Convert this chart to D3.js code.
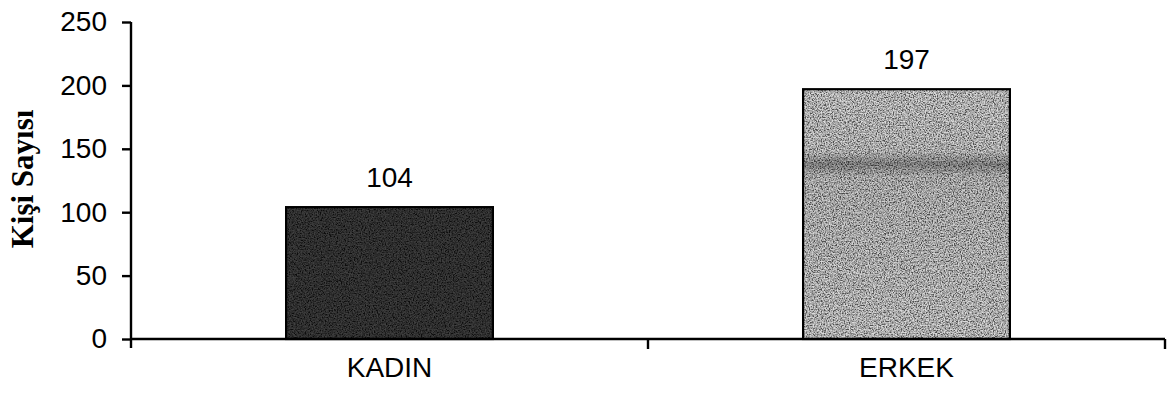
<!DOCTYPE html>
<html>
<head>
<meta charset="utf-8">
<script src="https://cdn.jsdelivr.net/npm/d3@7"></script>
<style>
  html, body { margin: 0; padding: 0; background: #fff; }
  svg { display: block; }
</style>
</head>
<body>
<svg id="chart" width="1174" height="395"></svg>
<script>
// Chart data
const categories = ["KADIN", "ERKEK"];
const values = [104, 197];
const yTicks = [0, 50, 100, 150, 200, 250];
const barTones = ["#2e2e2e", "#a8a8a8"];
const yTitle = "Kişi Sayısı";

const plot = { left: 131, right: 1165, top: 22, bottom: 339 };
const sans = "Arial, 'Liberation Sans', sans-serif";

const svg = d3.select("#chart");

// Grain filter for the printed-halftone look of the bars
const defs = svg.append("defs");
const grain = defs.append("filter").attr("id", "grain")
  .attr("x", 0).attr("y", 0).attr("width", 1).attr("height", 1);
grain.append("feTurbulence").attr("type", "fractalNoise")
  .attr("baseFrequency", 0.75).attr("numOctaves", 2).attr("seed", 4).attr("result", "noise");
grain.append("feColorMatrix").attr("in", "noise").attr("type", "saturate").attr("values", 0).attr("result", "mono");
grain.append("feComponentTransfer").attr("in", "mono").attr("result", "spread")
  .call(g => {
    ["R", "G", "B"].forEach(c => g.append("feFunc" + c).attr("type", "linear").attr("slope", 3.2).attr("intercept", -1.1));
    g.append("feFuncA").attr("type", "linear").attr("slope", 0).attr("intercept", 0.8);
  });
grain.append("feComposite").attr("in", "spread").attr("in2", "SourceGraphic").attr("operator", "in").attr("result", "grainIn");
grain.append("feBlend").attr("in", "grainIn").attr("in2", "SourceGraphic").attr("mode", "overlay");

// Darker streak across the lighter bar
const grad = defs.append("linearGradient").attr("id", "streak")
  .attr("x1", 0).attr("y1", 0).attr("x2", 0).attr("y2", 1);
[[0, "#acacac"], [0.25, "#a6a6a6"], [0.3, "#787878"], [0.35, "#a0a0a0"], [1, "#aaaaaa"]]
  .forEach(([o, c]) => grad.append("stop").attr("offset", o).attr("stop-color", c));

const x = d3.scaleBand().domain(categories).range([plot.left, plot.right]).padding(0);
const y = d3.scaleLinear().domain([0, 250]).range([plot.bottom, plot.top]);
const barW = x.bandwidth() * 0.4;

// Bars
svg.append("g").selectAll("rect")
  .data(categories)
  .join("rect")
  .attr("x", d => x(d) + (x.bandwidth() - barW) / 2)
  .attr("y", (d, i) => y(values[i]))
  .attr("width", barW)
  .attr("height", (d, i) => y(0) - y(values[i]))
  .attr("fill", (d, i) => i === 1 ? "url(#streak)" : barTones[i])
  .attr("filter", "url(#grain)");

svg.append("g").selectAll("rect")
  .data(categories)
  .join("rect")
  .attr("x", d => x(d) + (x.bandwidth() - barW) / 2)
  .attr("y", (d, i) => y(values[i]))
  .attr("width", barW)
  .attr("height", (d, i) => y(0) - y(values[i]))
  .attr("fill", "none")
  .attr("stroke", "#000")
  .attr("stroke-width", 2.2);

// Value labels
svg.append("g").selectAll("text")
  .data(categories)
  .join("text")
  .attr("x", d => x(d) + x.bandwidth() / 2)
  .attr("y", (d, i) => y(values[i]) - 20)
  .attr("text-anchor", "middle")
  .attr("font-family", sans)
  .attr("font-size", 28)
  .attr("fill", "#000")
  .text((d, i) => values[i]);

// Y axis
const yAxis = d3.axisLeft(y).tickValues(yTicks).tickSize(9).tickPadding(15);
const gy = svg.append("g").attr("transform", `translate(${plot.left},0)`).call(yAxis);
gy.select(".domain").attr("stroke", "#000").attr("stroke-width", 2.4)
  .attr("d", `M0,${plot.top}V${plot.bottom + 9}`);
gy.selectAll(".tick line").attr("stroke", "#000").attr("stroke-width", 2.4);
gy.selectAll(".tick text")
  .attr("font-family", sans)
  .attr("font-size", 28).attr("fill", "#000");

// X axis: ticks sit on category boundaries, labels at band centres
svg.append("line")
  .attr("x1", plot.left).attr("x2", plot.right).attr("y1", y(0)).attr("y2", y(0))
  .attr("stroke", "#000").attr("stroke-width", 2.4);
const boundaries = categories.map(d => x(d) + x.bandwidth());
svg.append("g").selectAll("line")
  .data(boundaries)
  .join("line")
  .attr("x1", d => d).attr("x2", d => d)
  .attr("y1", y(0)).attr("y2", y(0) + 10)
  .attr("stroke", "#000").attr("stroke-width", 2.4);

svg.append("g").selectAll("text")
  .data(categories)
  .join("text")
  .attr("x", d => x(d) + x.bandwidth() / 2)
  .attr("y", 377)
  .attr("text-anchor", "middle")
  .attr("font-family", sans)
  .attr("font-size", 28)
  .attr("fill", "#000")
  .text(d => d);

// Y axis title
svg.append("text")
  .attr("transform", `translate(33,179) rotate(-90)`)
  .attr("text-anchor", "middle")
  .attr("font-family", "'Times New Roman', 'Liberation Serif', serif")
  .attr("font-weight", "bold")
  .attr("font-size", 31)
  .attr("fill", "#000")
  .text(yTitle);
</script>
</body>
</html>
